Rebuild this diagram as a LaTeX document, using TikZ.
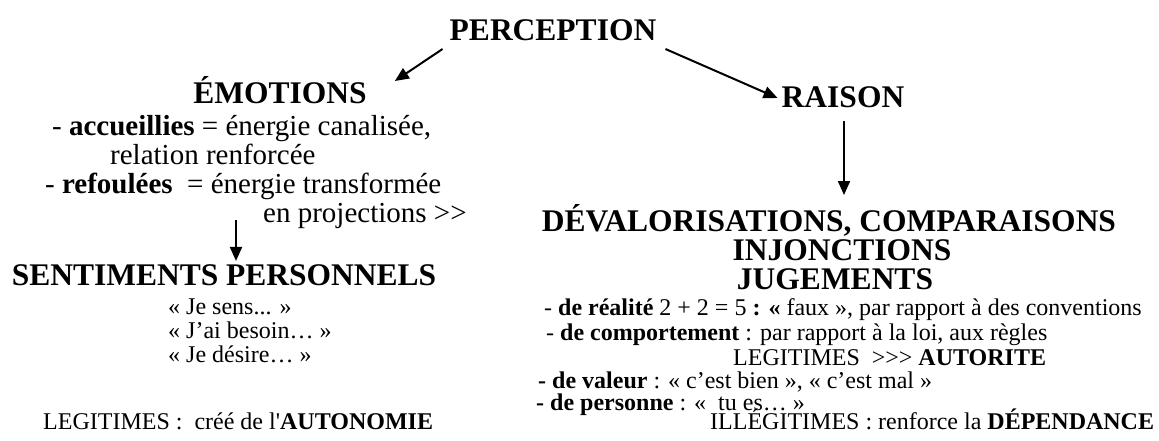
\documentclass[tikz,border=0pt]{standalone}
\usepackage{fontspec}
\setmainfont{Liberation Serif}[Ligatures=TeXOff]
\usepackage{tikz}
\usetikzlibrary{arrows.meta}

\tikzset{
  titre/.style={font=\fontsize{31.5}{33}\selectfont\bfseries, inner sep=0pt, anchor=base},
  grand/.style={font=\fontsize{29}{30}\selectfont, inner sep=0pt, anchor=base west},
  petit/.style={font=\fontsize{24}{25}\selectfont, inner sep=0pt, anchor=base west},
  fleche/.style={line width=2pt, -{Triangle[length=14pt,width=12pt]}}
}

\begin{document}
\begin{tikzpicture}[x=1pt,y=1pt,yscale=-1,xscale=1]
\path [use as bounding box] (0,0) rectangle (1159,440);

% Text Node
\draw (553,40) node [titre] (perc) {PERCEPTION};
% Text Node
\draw (280,103) node [titre] (emo) {ÉMOTIONS};
% Text Node
\draw (843,107) node [titre] (rais) {RAISON};

% Text Node
\draw (52,135) node [grand] (acc) {- \textbf{accueillies} = énergie canalisée,};
% Text Node
\draw (110,164) node [grand] (rel) {relation renforcée};
% Text Node
\draw (45,193) node [grand] (ref) {- \textbf{refoulées}\ \ = énergie transformée};
% Text Node
\draw (263,222) node [grand] (proj) {en projections >>};

% Text Node
\draw (224,285) node [titre] (sent) {SENTIMENTS PERSONNELS};
% Text Node
\draw (168,314) node [petit] (sens) {« Je sens... »};
% Text Node
\draw (168,338) node [petit] (besoin) {« J’ai besoin… »};
% Text Node
\draw (168,362) node [petit] (desire) {« Je désire… »};
% Text Node
\draw (43,429) node [petit] (legA) {LEGITIMES :\ \ créé de l'\textbf{AUTONOMIE}};

% Text Node
\draw (829,231) node [titre] (dev) {DÉVALORISATIONS, COMPARAISONS};
% Text Node
\draw (842,260) node [titre] (inj) {INJONCTIONS};
% Text Node
\draw (835,289) node [titre] (jug) {JUGEMENTS};
% Text Node
\draw (544,315) node [petit] (real) {- \textbf{de réalité} 2 + 2 = 5 \textbf{: «} faux », par rapport à des conventions};
% Text Node
\draw (546,340) node [petit] (comp) {- \textbf{de comportement} : par rapport à la loi, aux règles};
% Text Node
\draw (733,365) node [petit] (autor) {LEGITIMES\ \ >>> \textbf{AUTORITE}};
% Text Node
\draw (538,388) node [petit] (val) {\textbf{- de valeur} : « c’est bien », « c’est mal »};
% Text Node
\draw (536,410) node [petit] (pers) {\textbf{- de personne} : «\ \ tu es… »};
% Text Node
\draw (710,429) node [petit] (illeg) {ILLÉGITIMES : renforce la \textbf{DÉPENDANCE}};

%Straight Lines
\draw [fleche] ([xshift=-7pt,yshift=9pt]perc.base west) -- ([xshift=28pt,yshift=-22pt]emo.base east);
%Straight Lines
\draw [fleche] ([xshift=9pt,yshift=9pt]perc.base east) -- ([xshift=-4pt,yshift=-9pt]rais.base west);
%Straight Lines
\draw [fleche] ([xshift=1pt,yshift=14pt]rais.base) -- ([xshift=15pt,yshift=-36pt]dev.base);
%Straight Lines
\draw [fleche] ([xshift=-27pt,yshift=-2pt]proj.base west) -- ([xshift=12pt,yshift=-3pt]sent.north);

\end{tikzpicture}
\end{document}
